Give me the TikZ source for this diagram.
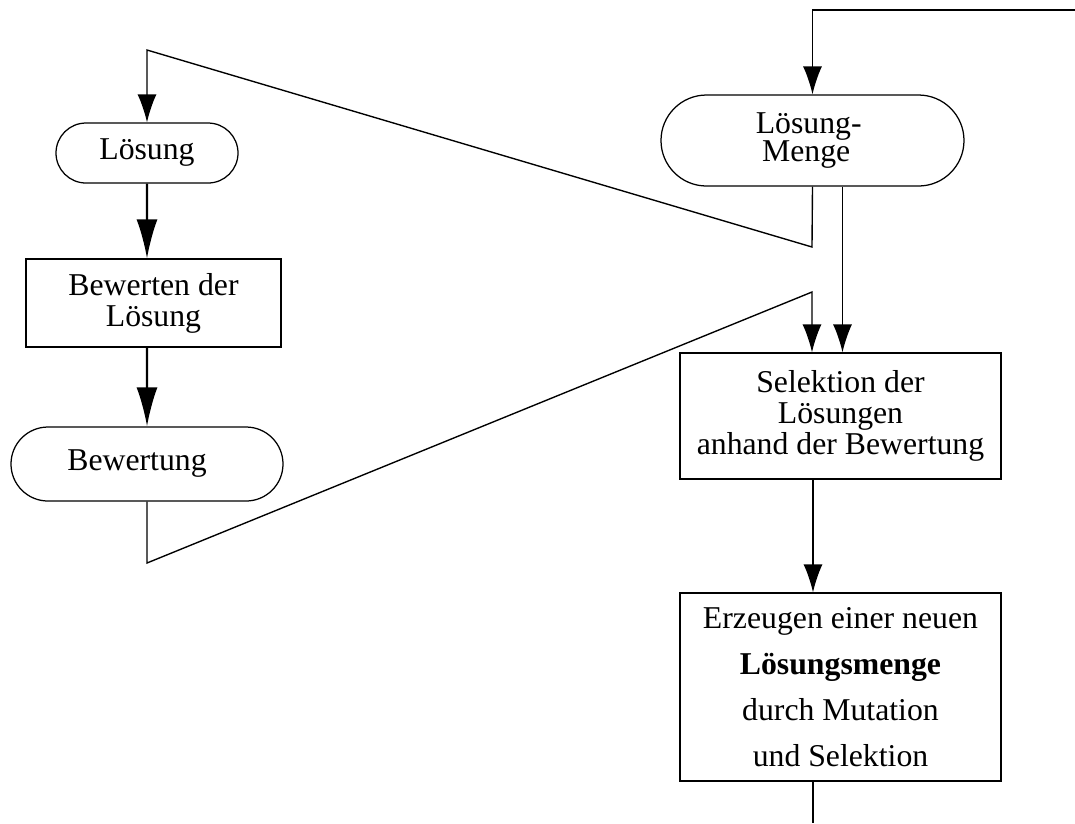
\documentclass[tikz,border=0pt]{standalone}
\usepackage{fontspec}
\setmainfont{Liberation Serif}
\usetikzlibrary{arrows.meta,shapes.misc}

\begin{document}
\begin{tikzpicture}[x=0.4pt,y=-0.4pt]
            \tikzstyle{every node}=[font=\fontsize{12.7}{12.4}\selectfont,align=center,inner sep=0pt]
            \tikzstyle{daten}=[draw,line width=0.5pt,rounded rectangle]
            \tikzstyle{prozess}=[draw,line width=0.5pt,rectangle]
            \tikzstyle{fluss}=[line width=0.55pt,-{Latex[length=11.2pt,width=7.6pt]}]
            \tikzstyle{fluss dick}=[line width=0.85pt,-{Latex[length=15.6pt,width=8.4pt]}]
            \tikzstyle{linie}=[line width=0.55pt]
            \useasboundingbox (0,0) rectangle (1075,823);
            % linke Spalte
            \node[daten,minimum width=72.8pt,minimum height=24pt] (loesung) at (147,153) {Lösung};
            \node[prozess,minimum width=102pt,minimum height=35.2pt] (bewerten) at (153.5,303) {Bewerten der\\Lösung};
            \node[daten,minimum width=108.8pt,minimum height=29.6pt] (bewertung) at (147,464) {Bewertung\hspace*{8pt}};
            % rechte Spalte
            \node[daten,minimum width=121.2pt,minimum height=36.4pt,font=\fontsize{12.7}{11.2}\selectfont] (menge) at (812.5,140.5) {Lösung-\hspace*{3pt}\\Menge\hspace*{5pt}};
            \node[prozess,minimum width=128.4pt,minimum height=50.4pt] (selektion) at (840.5,416) {Selektion der\\Lösungen\\anhand der Bewertung};
            \node[prozess,minimum width=128.4pt,minimum height=75.2pt,font=\fontsize{12.7}{18.4}\selectfont] (erzeugen) at (840.5,687) {Erzeugen einer neuen\\\textbf{Lösungsmenge}\\durch Mutation\\und Selektion};
            % Knickpunkte
            \coordinate (rein) at (1075,10);
            \coordinate (ecke oben) at (147,50);
            \coordinate (ecke menge) at (812,247);
            \coordinate (ecke unten) at (147,563);
            \coordinate (ecke selektion) at (812,292);
            \coordinate (raus) at (813,823);
            % Verbindungen
            \draw[fluss] (rein) -| (menge.north);
            \draw[fluss] (menge.south) -- (ecke menge) -- (ecke oben) -- (loesung.north);
            \draw[fluss dick] (loesung) -- (loesung.south |- bewerten.north);
            \draw[fluss dick] (bewerten.south -| loesung) -- (bewertung);
            \draw[fluss] (bewertung) -- (ecke unten) -- (ecke selektion) -- (ecke selektion |- selektion.north);
            \draw[fluss] ([xshift=12pt]menge.south) -- ([xshift=12pt]menge.south |- selektion.north);
            \draw[fluss] (raus |- selektion.south) -- (raus |- erzeugen.north);
            \draw[linie] (raus |- erzeugen.south) -- (raus);
        \end{tikzpicture}
\end{document}
